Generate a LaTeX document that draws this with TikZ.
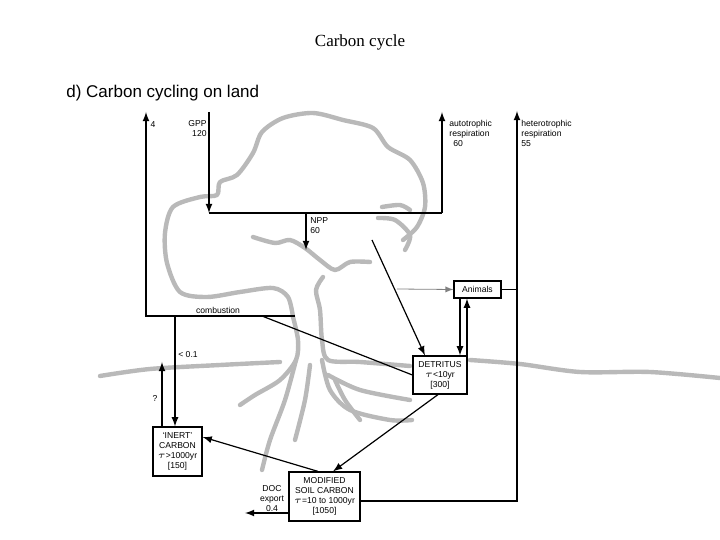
\documentclass[tikz,border=0pt]{standalone}
\usepackage{fontspec}
\setmainfont{Liberation Sans}
\newfontfamily\seriff{Liberation Serif}
\begin{document}
\begin{tikzpicture}[x=0.5pt,y=-0.5pt,
  tree/.style={gray!55,line width=2.2pt,line cap=round,line join=round},
  flow/.style={black,line width=0.6pt,-latex},
  ln/.style={black,line width=0.6pt},
  box/.style={draw,fill=white,line width=0.6pt,align=center,font=\fontsize{4.3}{5}\selectfont,inner sep=1pt},
  lab/.style={font=\fontsize{4.3}{5}\selectfont,inner sep=0pt,align=left}]
\useasboundingbox (0,0) rectangle (720,540);
\node[font=\seriff\fontsize{8.5}{10}\selectfont] (title) at (360,42) {Carbon cycle};
\node[anchor=west,font=\fontsize{8.5}{10}\selectfont,inner sep=0pt] (sub) at (66,93) {d) Carbon cycling on land};
% tree
\draw[tree] plot[smooth] coordinates {(293,317)(288,297)(273,288)(240,292)(207,297)(180,292)(167,263)(165,233)(173,207)(200,197)(217,195)(220,182)(237,175)(253,153)(262,132)(283,118)(313,113)(343,120)(373,128)(388,147)(410,160)(423,183)(425,207)(417,227)(403,240)};
\draw[tree] plot[smooth] coordinates {(253,237)(275,243)(290,240)(305,248)(320,260)(335,270)(350,262)(370,262)};
\draw[tree] plot[smooth] coordinates {(382,207)(400,205)(410,210)};
\draw[tree] plot[smooth] coordinates {(378,218)(395,220)(410,235)(405,250)};
\draw[tree] plot[smooth] coordinates {(323,277)(316,290)(320,310)(322,340)(328,360)(360,362)(410,366)};
\draw[tree] plot[smooth] coordinates {(293,317)(298,340)(296,360)(280,380)(255,395)(240,405)};
\draw[tree] plot[smooth] coordinates {(296,360)(285,400)(270,440)(262,470)};
\draw[tree] plot[smooth] coordinates {(310,365)(305,400)(295,440)};
\draw[tree] plot[smooth] coordinates {(322,360)(330,390)(350,410)(390,420)(412,420)};
\draw[tree] plot[smooth] coordinates {(328,375)(360,390)(410,400)};
\draw[tree] plot[smooth] coordinates {(335,380)(345,400)(360,420)};
\draw[tree] plot[smooth] coordinates {(100,376)(150,369)(220,365)(280,362)};
\draw[tree] plot[smooth] coordinates {(470,360)(520,364)(580,372)(650,372)(720,378)};
% boxes
\node[box,minimum width=24.5pt,minimum height=24.5pt] (inert) at (177.5,451.5) {`INERT'\\CARBON\\$\tau$>1000yr\\{[}150{]}};
\node[box,minimum width=35.5pt,minimum height=24.5pt] (mod) at (324.5,496.5) {MODIFIED\\SOIL CARBON\\$\tau$=10 to 1000yr\\{[}1050{]}};
\node[box,minimum width=27pt,minimum height=19pt] (det) at (440,375) {DETRITUS\\$\tau$<10yr\\{[}300{]}};
\node[box,minimum width=23.5pt,minimum height=8.5pt] (ani) at (477.5,289.5) {Animals};
% combustion loop
\coordinate (c4) at (146,112);
\coordinate (cbl) at (146,316);
\coordinate (cbr) at (295,316);
\coordinate (cin) at (175,316);
\coordinate (cdet) at (262,316);
\draw[flow] (cbr) -- (cbl) -- (c4);
\draw[ln] (cdet) -- (det.west);
\draw[flow] (cin) -- (inert.north -| cin);
\coordinate (qtop) at (162,362);
\draw[flow] (inert.north -| qtop) -- (qtop);
\node[lab] (l4) at (153,125) {4};
\node[lab] (lcomb) at (218,310) {combustion};
\node[lab] (l01) at (188,355) {< 0.1};
\node[lab] (lq) at (155,398) {?};
% GPP / NPP
\coordinate (gtop) at (209,112);
\coordinate (gb) at (209,213);
\coordinate (ab) at (442,213);
\coordinate (atop) at (442,112);
\coordinate (nb) at (306,213);
\coordinate (ne) at (306,250);
\draw[flow] (gtop) -- (gb);
\draw[ln] (gb) -- (ab);
\draw[flow] (ab) -- (atop);
\draw[flow] (nb) -- (ne);
\node[lab,align=right,anchor=north east] (lgpp) at (207,120) {GPP\\120};
\node[lab,anchor=north west] (lnpp) at (310,217) {NPP\\60};
\node[lab,anchor=north west] (laut) at (449,120) {autotrophic\\respiration\\\hspace*{2pt}60};
\node[lab,anchor=north west] (lhet) at (521,120) {heterotrophic\\respiration\\55};
% heterotrophic
\coordinate (htop) at (517,111);
\coordinate (hb) at (517,501);
\draw[flow] (mod.east |- hb) -- (hb) -- (htop);
\draw[ln] (ani.east) -- (ani.east -| hb);
% animals
\coordinate (anin) at (397,289);
\draw[-latex,gray,line width=0.4pt] (anin) -- (ani.west);
\draw[flow] (ani.south -| 460,0) -- (det.north -| 460,0);
\draw[flow] (det.north -| 467,0) -- (ani.south -| 467,0);
% litter
\coordinate (lit) at (372,240);
\draw[flow] (lit) -- (det.north -| 425,0);
\draw[flow] (det.south -| 438,0) -- (mod.north -| 333,0);
\draw[flow] (mod.north -| 318,0) -- (inert.east |- 0,437);
% DOC
\coordinate (doc) at (245,513);
\draw[flow] (mod.west |- doc) -- (doc);
\node[lab,align=center] (ldoc) at (272,499) {DOC\\export\\0.4};
\end{tikzpicture}
\end{document}
